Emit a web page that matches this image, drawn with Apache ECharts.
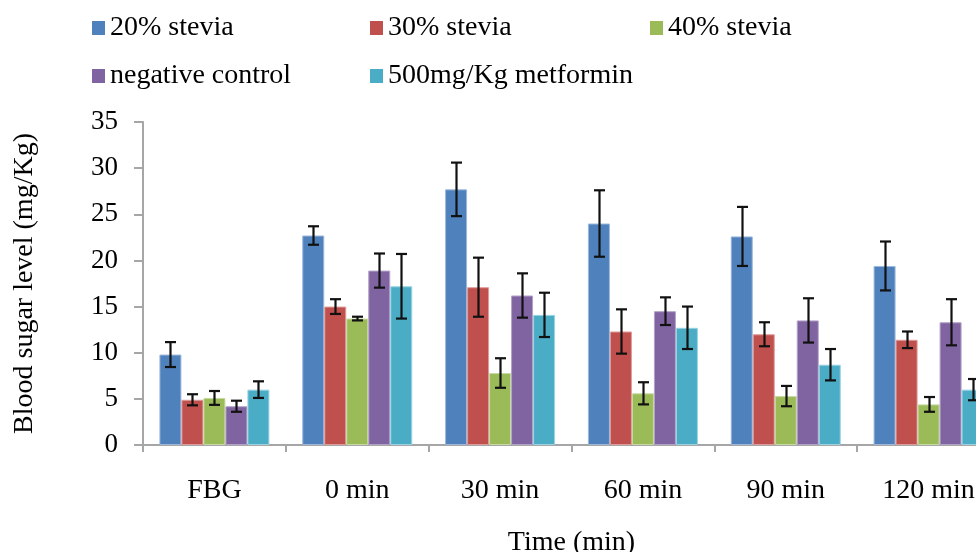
<!DOCTYPE html>
<html>
<head>
<meta charset="utf-8">
<script src="https://cdn.jsdelivr.net/npm/echarts@6/dist/echarts.min.js"></script>
<style>
html,body{margin:0;padding:0;background:#fff;overflow:hidden;width:976px;height:552px;}
#chart{width:1024px;height:552px;}
</style>
</head>
<body>
<div id="chart"></div>
<script>
var categories = ['FBG', '0 min', '30 min', '60 min', '90 min', '120 min'];
var seriesNames = ['20% stevia', '30% stevia', '40% stevia', 'negative control', '500mg/Kg metformin'];
var stevia20 = [9.8, 22.7, 27.7, 24.0, 22.6, 19.4];
var stevia20Err = [1.35, 1.0, 2.9, 3.6, 3.2, 2.65];
var stevia30 = [4.9, 15.0, 17.1, 12.3, 12.0, 11.4];
var stevia30Err = [0.6, 0.8, 3.2, 2.4, 1.3, 0.9];
var stevia40 = [5.1, 13.7, 7.8, 5.6, 5.3, 4.4];
var stevia40Err = [0.75, 0.2, 1.6, 1.2, 1.1, 0.8];
var negControl = [4.2, 18.9, 16.2, 14.5, 13.5, 13.3];
var negControlErr = [0.6, 1.85, 2.4, 1.5, 2.4, 2.5];
var metformin = [6.0, 17.2, 14.1, 12.7, 8.7, 6.0];
var metforminErr = [0.9, 3.5, 2.4, 2.3, 1.7, 1.15];
var yTicks = [0, 5, 10, 15, 20, 25, 30, 35];

var values = [stevia20, stevia30, stevia40, negControl, metformin];
var errors = [stevia20Err, stevia30Err, stevia40Err, negControlErr, metforminErr];
var colors = ['#4F81BD', '#C0504D', '#9BBB59', '#8064A2', '#4BACC6'];
var borders = ['#9DB8DB', '#DE9C9A', '#C6D9A0', '#B3A2C8', '#9BD3E2'];
var BAR_W = 22;
var FONT = '"Liberation Serif", "Times New Roman", serif';

var chart = echarts.init(document.getElementById('chart'));

var series = [];
for (var i = 0; i < 5; i++) {
  series.push({
    name: seriesNames[i],
    type: 'bar',
    data: values[i],
    barWidth: BAR_W,
    barGap: '0%',
    itemStyle: { color: colors[i], borderColor: borders[i], borderWidth: 1 },
    z: 2
  });
}

var errData = [];
for (var s = 0; s < 5; s++) {
  for (var c = 0; c < categories.length; c++) {
    errData.push([c, s, values[s][c] - errors[s][c], values[s][c] + errors[s][c]]);
  }
}

series.push({
  type: 'custom',
  name: 'error',
  data: errData,
  z: 10,
  silent: true,
  renderItem: function (params, api) {
    var ci = api.value(0), si = api.value(1);
    var lo = api.coord([ci, api.value(2)]);
    var hi = api.coord([ci, api.value(3)]);
    var x = Math.round(lo[0] + (si - 2) * BAR_W) + 0.5;
    var cap = 5.5;
    var st = { stroke: '#111', lineWidth: 2.2, fill: null };
    return {
      type: 'group',
      children: [
        { type: 'line', shape: { x1: x, y1: hi[1], x2: x, y2: lo[1] }, style: st },
        { type: 'line', shape: { x1: x - cap, y1: hi[1], x2: x + cap, y2: hi[1] }, style: st },
        { type: 'line', shape: { x1: x - cap, y1: lo[1], x2: x + cap, y2: lo[1] }, style: st }
      ]
    };
  }
});

var legendPos = [[92, 14], [370, 14], [650, 14], [92, 62], [370, 62]];
var legends = legendPos.map(function (p, k) {
  return {
    data: [seriesNames[k]],
    left: p[0], top: p[1],
    padding: 0,
    icon: 'rect',
    itemWidth: 13, itemHeight: 14,
    itemStyle: { borderWidth: 0 },
    selectedMode: false,
    textStyle: { fontFamily: FONT, fontSize: 28, color: '#000' }
  };
});

chart.setOption({
  animation: false,
  backgroundColor: '#fff',
  legend: legends,
  grid: { left: 143, top: 122, width: 857, height: 323, containLabel: false, outerBoundsMode: 'none' },
  xAxis: {
    type: 'category',
    data: categories,
    name: 'Time (min)',
    nameLocation: 'middle',
    nameGap: 84,
    nameTextStyle: { fontFamily: FONT, fontSize: 28, color: '#000' },
    axisLine: { lineStyle: { color: '#A6A6A6', width: 2 } },
    axisTick: { show: true, length: 7, lineStyle: { color: '#A6A6A6', width: 2 } },
    axisLabel: { fontFamily: FONT, fontSize: 28, color: '#000', margin: 32 }
  },
  yAxis: {
    type: 'value',
    min: yTicks[0],
    max: yTicks[yTicks.length - 1],
    interval: 5,
    name: 'Blood sugar level (mg/Kg)',
    nameLocation: 'middle',
    nameGap: 104,
    nameTextStyle: { fontFamily: FONT, fontSize: 28, color: '#000' },
    splitLine: { show: false },
    axisLine: { show: true, lineStyle: { color: '#A6A6A6', width: 2 } },
    axisTick: { show: true, length: 9, lineStyle: { color: '#A6A6A6', width: 2 } },
    axisLabel: { fontFamily: FONT, fontSize: 27, color: '#000', margin: 25 }
  },
  series: series
});
</script>
</body>
</html>
